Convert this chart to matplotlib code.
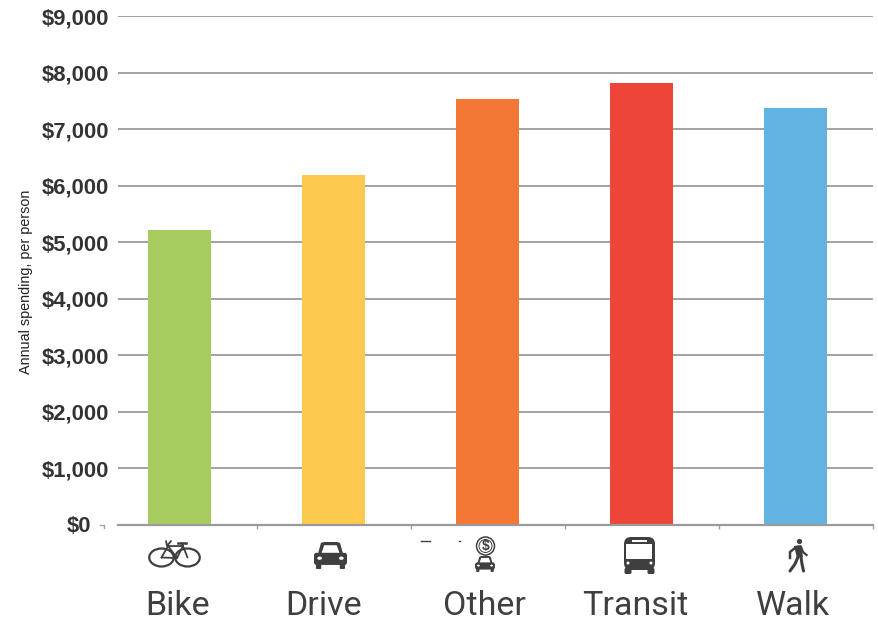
import matplotlib
matplotlib.use("Agg")
import matplotlib.pyplot as plt
from matplotlib.patches import Ellipse, FancyBboxPatch, Polygon, Circle, Rectangle

categories = ["Bike", "Drive", "Other", "Transit", "Walk"]
spending = [5216, 6190, 7540, 7807, 7374]
bar_colors = ["#A6CC60", "#FDC94E", "#F47735", "#EE4539", "#63B3E2"]
y_ticks = [0, 1000, 2000, 3000, 4000, 5000, 6000, 7000, 8000, 9000]
y_labels = ["$0", "$1,000", "$2,000", "$3,000", "$4,000", "$5,000", "$6,000", "$7,000", "$8,000", "$9,000"]
y_title = "Annual spending, per person"

W, H = 879, 620
DARK = "#3f3f3f"
fig = plt.figure(figsize=(W / 100, H / 100), dpi=100)
ax = fig.add_axes([118 / W, 1 - 525 / H, (873 - 118) / W, (525 - 16) / H])
ax.bar(range(5), spending, width=62.5 / 154, color=bar_colors, zorder=3)
ax.set_xlim(-61.7 / 154, 693.3 / 154)
ax.set_ylim(0, 9000)
ax.set_yticks(y_ticks, [""] + y_labels[1:], fontfamily="Liberation Sans", fontweight="bold",
              fontsize=15.8, color="#333333")
ax.tick_params(axis="y", length=0, pad=6.3)
ax.set_xticks([0.5, 1.5, 2.5, 3.5, 4.5], [""] * 5)
ax.tick_params(axis="x", length=3, width=1, color="#a0a0a0")
ax.grid(axis="y", color="#9a9a9a", lw=1.3, zorder=1)
for s in ["top", "left", "right"]:
    ax.spines[s].set_visible(False)
ax.spines["bottom"].set_color("#9a9a9a")
ax.spines["bottom"].set_linewidth(1.6)
ax.spines["bottom"].set_zorder(4)
fig.text(26 / W, 1 - 282 / H, y_title, rotation=90, ha="center", va="center",
         fontfamily="Liberation Sans", fontsize=10.4, color="#222222")

# overlay in pixel coordinates for the decorative pictograms and labels
ov = fig.add_axes([0, 0, 1, 1], facecolor="none")
ov.set_xlim(0, W)
ov.set_ylim(H, 0)
ov.axis("off")

ov.text(91, 526, y_labels[0], ha="right", va="center", fontfamily="Liberation Sans",
        fontweight="bold", fontsize=15.8, color="#333333")

label_x = [178, 324, 485, 635, 793]
for name, x in zip(categories, label_x):
    ov.text(x, 615, name, ha="center", va="baseline", fontsize=24.5,
            fontfamily="Roboto", color=DARK)

ov.plot([100, 104, 104], [525, 525, 528], color="#a0a0a0", lw=1)
ov.plot([421, 430], [541, 541], color=DARK, lw=1)
ov.plot([459, 460], [541, 541], color=DARK, lw=1)


def rrect(x0, y0, w, h, r, c="#3f3f3f", z=5):
    ov.add_patch(FancyBboxPatch((x0 + r, y0 + r), w - 2 * r, h - 2 * r,
                                boxstyle=f"round,pad={r}", fc=c, ec="none", zorder=z))


def car(cx, top, w, h):
    bw = w
    body = top + h * 0.40
    ov.add_patch(Polygon([(cx - bw * .38, body + 1), (cx - bw * .29, top + 1), (cx - bw * .2, top),
                          (cx + bw * .2, top), (cx + bw * .29, top + 1), (cx + bw * .38, body + 1)],
                         fc=DARK, ec="none", zorder=5))
    ov.add_patch(Polygon([(cx - bw * .27, body), (cx - bw * .19, top + h * .12),
                          (cx + bw * .19, top + h * .12), (cx + bw * .27, body)],
                         fc="white", ec="none", zorder=6))
    rrect(cx - bw / 2, body, bw, h * .45, 2.5, z=5)
    for sx in (-1, 1):
        rrect(cx + sx * bw * .36 - bw * .08, top + h * .78, bw * .16, h * .22, 1)
        ov.add_patch(Ellipse((cx + sx * bw * .33, body + h * .2), bw * .14, h * .12, fc="white", ec="none", zorder=6))


# bike
bk = dict(color=DARK, lw=1.3, zorder=5, solid_capstyle="round")
for cx in (161.5, 187.5):
    ov.add_patch(Ellipse((cx, 557.5), 24.5, 18, fc="none", ec=DARK, lw=1.6, zorder=5))
ov.plot([161.5, 168, 183, 177, 161.5], [557.5, 546, 546, 558, 557.5], **bk)
ov.plot([168, 177], [546, 558], **bk)
ov.plot([166, 167, 171], [541, 546, 541], **bk)
ov.plot([183, 187.5], [546, 557.5], **bk)
ov.plot([178, 186], [543, 543], color=DARK, lw=1.8, zorder=5)
ov.plot([182, 183], [543, 546], **bk)

# drive
car(330.5, 542, 33, 27)

# other
ov.add_patch(Circle((485.5, 546), 9, fc="none", ec=DARK, lw=1.1, zorder=5))
ov.add_patch(Circle((485.5, 546), 6.5, fc="none", ec=DARK, lw=0.7, zorder=5))
ov.text(485.5, 546, "$", ha="center", va="center", fontsize=10, fontweight="bold",
        fontfamily="Liberation Sans", color=DARK, zorder=6)
car(485, 556, 20, 16)

# transit
rrect(624, 537, 31, 33, 7)
ov.add_patch(Rectangle((626.5, 544), 26, 15, fc="white", ec="none", zorder=6))
ov.add_patch(Rectangle((632, 539.5), 15, 2.5, fc="white", ec="none", zorder=6))
for cx in (628, 651):
    ov.add_patch(Circle((cx, 563), 1.5, fc="white", ec="none", zorder=6))
    rrect(cx - 3.5, 568, 7, 6, 1.5)

# walk
ov.add_patch(Circle((799.5, 541.5), 2.6, fc=DARK, ec="none", zorder=5))
ov.add_patch(Polygon([(794, 546), (801, 545), (803, 557), (797, 558)], fc=DARK, ec="none", zorder=5))
wk = dict(color=DARK, lw=2.2, zorder=5, solid_capstyle="round")
ov.plot([797.5, 795, 790, 790], [547, 548, 552, 558], color=DARK, lw=1.8, zorder=5)
ov.plot([801, 803, 806.5], [547, 552, 555], color=DARK, lw=1.6, zorder=5)
ov.plot([798, 795, 790], [557, 564, 571], **wk)
ov.plot([801, 802, 803.5], [557, 564, 571], **wk)

fig.savefig("out.png", dpi=100)
